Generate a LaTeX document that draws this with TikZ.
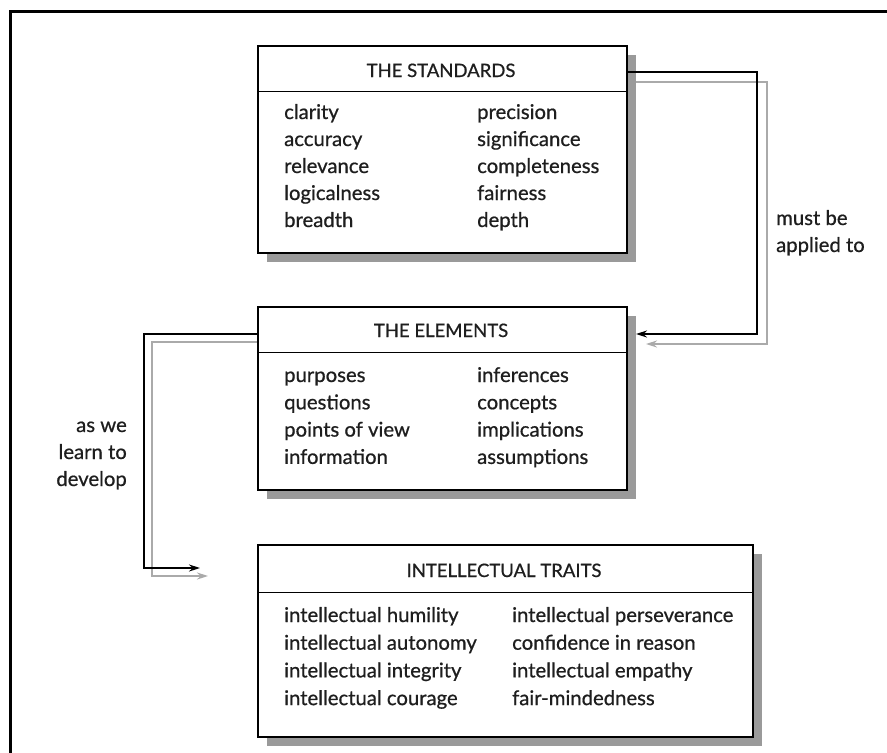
\documentclass[tikz,border=0pt]{standalone}
\usepackage{fontspec}
\setmainfont{Lato}[FakeBold=0.7]
\newfontfamily\boxfont{Lato}[FakeBold=0.7]
\usetikzlibrary{shadows,arrows.meta}

\definecolor{shadowgrey}{HTML}{9A9A9A}
\definecolor{lightgrey}{HTML}{AAAAAA}
\definecolor{ink}{HTML}{1E1E1E}

\tikzset{
  panel/.style={draw=black, line width=1.6pt, fill=white, anchor=north west,
    inner sep=0pt,
    drop shadow={shadow xshift=9pt, shadow yshift=-9pt, fill=shadowgrey, opacity=1}},
  heading/.style={anchor=base, inner sep=0pt, text=ink, font=\boxfont\fontsize{18.5}{20}\selectfont},
  item/.style={anchor=base west, inner sep=0pt, text=ink, font=\boxfont\fontsize{20.3}{27}\selectfont},
  lbl/.style={inner sep=0pt, text=ink, font=\boxfont\fontsize{20.3}{27}\selectfont},
  conn/.style={line width=1.5pt, draw=black, -{Stealth[length=11pt,width=7pt]}},
  connshade/.style={line width=1.5pt, draw=lightgrey, -{Stealth[length=11pt,width=7pt]}},
}

\begin{document}
\begin{tikzpicture}[x=1pt, y=-1pt]
  \useasboundingbox (0,0) rectangle (887,753);

  % outer frame, running past the page edges
  \draw[line width=3.5pt] (10.5,900) -- (10.5,11.5) -- (1000,11.5);

  % grey echoes of the connectors, kept under the panels
  \coordinate (stdout) at (626,72);
  \coordinate (eleright) at (636,334);
  \coordinate (eleleft) at (257,334);
  \coordinate (traitsin) at (200,568);
  \draw[connshade] ([shift={(10pt,-10pt)}]stdout) -| ([shift={(10pt,-10pt)}]757,334) -- ([shift={(10pt,-10pt)}]eleright);
  \draw[connshade] ([shift={(8pt,-8pt)}]eleleft) -| ([shift={(8pt,-8pt)}]144,568) -- ([shift={(8pt,-8pt)}]traitsin);

  % panels
  \node[panel, minimum width=369pt, minimum height=207pt] (std) at (257,45) {};
  \draw[line width=1pt] ([yshift=-46pt]std.north west) -- ([yshift=-46pt]std.north east);
  \node[heading] (stdhead) at (441,77) {THE STANDARDS};
  \foreach \t [count=\i] in {clarity,accuracy,relevance,logicalness,breadth}
    \node[item] (stdl\i) at (284,{119+27*(\i-1)}) {\t};
  \foreach \t [count=\i] in {precision,significance,completeness,fairness,depth}
    \node[item] (stdr\i) at (477,{119+27*(\i-1)}) {\t};

  \node[panel, minimum width=369pt, minimum height=183pt] (ele) at (257,306) {};
  \draw[line width=1pt] ([yshift=-46pt]ele.north west) -- ([yshift=-46pt]ele.north east);
  \node[heading] (elehead) at (441,337) {THE ELEMENTS};
  \foreach \t [count=\i] in {purposes,questions,points of view,information}
    \node[item] (elel\i) at (284,{382+27.3*(\i-1)}) {\t};
  \foreach \t [count=\i] in {inferences,concepts,implications,assumptions}
    \node[item] (eler\i) at (477,{382+27.3*(\i-1)}) {\t};

  \node[panel, minimum width=495pt, minimum height=192pt] (tra) at (257,544) {};
  \draw[line width=1pt] ([yshift=-48pt]tra.north west) -- ([yshift=-48pt]tra.north east);
  \node[heading] (trahead) at (504,577) {INTELLECTUAL TRAITS};
  \foreach \t [count=\i] in {intellectual humility,intellectual autonomy,intellectual integrity,intellectual courage}
    \node[item] (tral\i) at (284,{622+27.7*(\i-1)}) {\t};
  \foreach \t [count=\i] in {intellectual perseverance,confidence in reason,intellectual empathy,fair-mindedness}
    \node[item] (trar\i) at (512,{622+27.7*(\i-1)}) {\t};

  % connectors
  \draw[conn] (stdout) -| (757,334) -- (eleright);
  \draw[conn] (eleleft) -| (144,568) -- (traitsin);

  % connector labels (the base anchor sits on the last line)
  \node[lbl, align=left, anchor=base west] (applied) at (776,252) {must be\\applied to};
  \node[lbl, align=right, anchor=base east] (develop) at (127,486) {as we\\learn to\\develop};
\end{tikzpicture}
\end{document}
